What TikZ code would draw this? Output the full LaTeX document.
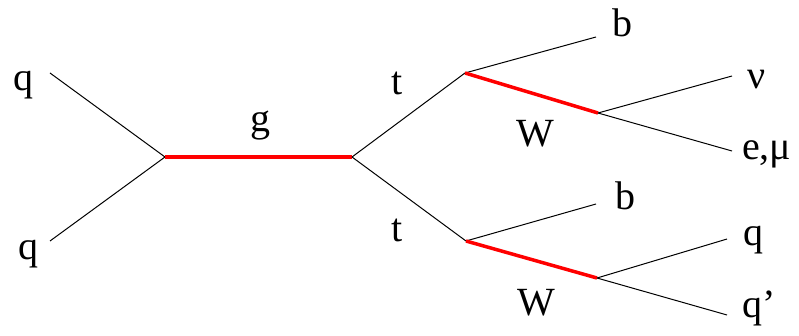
\documentclass[tikz,border=0pt]{standalone}
\usepackage{fontspec}
\setmainfont{Liberation Serif}
\begin{document}
\begin{tikzpicture}[x=1pt,y=-1pt,
  fermion/.style={black,line width=1pt},
  boson/.style={red,line width=3.5pt},
  lbl/.style={anchor=base,inner sep=0pt,font=\fontsize{40}{44}\selectfont}]
\useasboundingbox (0,0) rectangle (799,336);
% vertices and free ends
\coordinate (qa) at (50,73);
\coordinate (qb) at (50,241);
\coordinate (v1) at (165,157);
\coordinate (v2) at (352,157);
\coordinate (vt) at (465,73);
\coordinate (vb) at (466,241);
\coordinate (bt) at (596,37);
\coordinate (bb) at (596,204);
\coordinate (wt) at (598,113);
\coordinate (wb) at (597,278);
\coordinate (nu) at (732,76);
\coordinate (lep) at (732,151);
\coordinate (qq) at (727,239);
\coordinate (qp) at (727,315);
% lines
\draw[fermion] (qa) -- (v1);
\draw[fermion] (qb) -- (v1);
\draw[boson] (v1) -- (v2);
\draw[fermion] (v2) -- (vt);
\draw[fermion] (v2) -- (vb);
\draw[fermion] (vt) -- (bt);
\draw[boson] (vt) -- (wt);
\draw[fermion] (wt) -- (nu);
\draw[fermion] (wt) -- (lep);
\draw[fermion] (vb) -- (bb);
\draw[boson] (vb) -- (wb);
\draw[fermion] (wb) -- (qq);
\draw[fermion] (wb) -- (qp);
% labels
\node[lbl] (lqa) at (23,91) {q};
\node[lbl] (lqb) at (28,260) {q};
\node[lbl] (lg) at (260,132) {g};
\node[lbl] (lt1) at (397,95) {t};
\node[lbl] (lt2) at (397,242) {t};
\node[lbl] (lw1) at (535,147) {W};
\node[lbl] (lw2) at (536,315) {W};
\node[lbl] (lb1) at (622,37) {b};
\node[lbl] (lb2) at (625,210) {b};
\node[lbl] (lnu) at (757,89) {ν};
\node[lbl,anchor=base west] (llep) at (742,160) {e,μ};
\node[lbl] (lq) at (753,246) {q};
\node[lbl,anchor=base west] (lqp) at (742,317) {q’};
\end{tikzpicture}
\end{document}
